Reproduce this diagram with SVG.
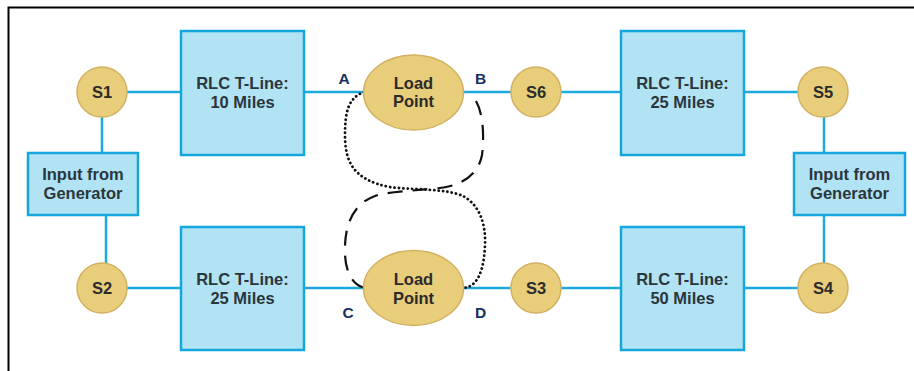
<svg xmlns="http://www.w3.org/2000/svg" width="914" height="371" viewBox="0 0 914 371">
  <style>
    .frame { fill: none; stroke: #000; stroke-width: 2; }
    .wire { fill: none; stroke: #1ca9de; stroke-width: 2.5; }
    .box { fill: #b1e3f4; stroke: #14a6dc; stroke-width: 2.5; }
    .bus { fill: #e8cd7b; stroke: #d2b161; stroke-width: 1.5; }
    .lbl { font-family: "Liberation Sans", Arial, sans-serif; font-weight: bold; font-size: 16.5px; fill: #2a363c; text-anchor: middle; }
    .bus-lbl { fill: #2b2b2b; }
    .pt { font-family: "Liberation Sans", Arial, sans-serif; font-weight: bold; font-size: 15.5px; fill: #15305f; text-anchor: middle; }
    .dotted { fill: none; stroke: #111; stroke-width: 2.8; stroke-linecap: round; stroke-dasharray: 0.1 4.3; }
    .dashed { fill: none; stroke: #111; stroke-width: 2.2; stroke-dasharray: 15 10; }
  </style>

  <rect class="frame" x="8.5" y="7.5" width="920" height="380"/>

  <g id="connectors">
    <!-- top row -->
    <line class="wire" x1="127" y1="92" x2="181" y2="92"/>
    <line class="wire" x1="304" y1="92" x2="364" y2="92"/>
    <line class="wire" x1="463" y1="92" x2="511" y2="92"/>
    <line class="wire" x1="561" y1="92" x2="621" y2="92"/>
    <line class="wire" x1="744" y1="92" x2="798" y2="92"/>
    <!-- bottom row -->
    <line class="wire" x1="127" y1="288" x2="181" y2="288"/>
    <line class="wire" x1="304" y1="288" x2="364" y2="288"/>
    <line class="wire" x1="463" y1="288" x2="511" y2="288"/>
    <line class="wire" x1="561" y1="288" x2="621" y2="288"/>
    <line class="wire" x1="744" y1="288" x2="798" y2="288"/>
    <!-- generator feeds -->
    <line class="wire" x1="102" y1="117" x2="102" y2="153"/>
    <line class="wire" x1="106" y1="215" x2="106" y2="264"/>
    <line class="wire" x1="824" y1="117" x2="824" y2="153"/>
    <line class="wire" x1="824" y1="215" x2="824" y2="263"/>
    <!-- load point crossings -->
    <path class="dotted" d="M364,92 C348,98 345,112 345,135 C345,160 352,180 390,187 C410,190 445,188 463,196 C480,205 486,225 485,245 C484,270 478,287 463,288"/>
    <path class="dashed" d="M476,101 C484,115 484,140 482,155 C479,172 465,185 440,188 C410,191 385,192 375,196 C350,205 344,230 345,255 C346,272 352,285 365,288"/>
  </g>

  <g id="gen-left">
    <rect class="box" x="28" y="153" width="110" height="62"/>
    <text class="lbl" x="83" y="180">Input from</text>
    <text class="lbl" x="83" y="198.5">Generator</text>
  </g>
  <g id="gen-right">
    <rect class="box" x="794" y="153" width="111" height="62"/>
    <text class="lbl" x="849.5" y="180">Input from</text>
    <text class="lbl" x="849.5" y="198.5">Generator</text>
  </g>

  <g id="line-10">
    <rect class="box" x="181" y="31" width="123" height="124"/>
    <text class="lbl" x="242.5" y="89">RLC T-Line:</text>
    <text class="lbl" x="242.5" y="107.5">10 Miles</text>
  </g>
  <g id="line-25a">
    <rect class="box" x="621" y="31" width="123" height="124"/>
    <text class="lbl" x="682.5" y="89">RLC T-Line:</text>
    <text class="lbl" x="682.5" y="107.5">25 Miles</text>
  </g>
  <g id="line-25b">
    <rect class="box" x="181" y="227" width="123" height="123"/>
    <text class="lbl" x="242.5" y="285">RLC T-Line:</text>
    <text class="lbl" x="242.5" y="303.5">25 Miles</text>
  </g>
  <g id="line-50">
    <rect class="box" x="621" y="227" width="123" height="123"/>
    <text class="lbl" x="682.5" y="285">RLC T-Line:</text>
    <text class="lbl" x="682.5" y="303.5">50 Miles</text>
  </g>

  <g id="load-top">
    <ellipse class="bus" cx="413.5" cy="92.5" rx="50" ry="37.5"/>
    <text class="lbl bus-lbl" x="413.5" y="88.5">Load</text>
    <text class="lbl bus-lbl" x="413.5" y="107">Point</text>
  </g>
  <g id="load-bottom">
    <ellipse class="bus" cx="413.5" cy="288" rx="50" ry="37.5"/>
    <text class="lbl bus-lbl" x="413.5" y="285">Load</text>
    <text class="lbl bus-lbl" x="413.5" y="303.5">Point</text>
  </g>

  <g id="s1"><circle class="bus" cx="102" cy="92" r="25"/><text class="lbl bus-lbl" x="102" y="98">S1</text></g>
  <g id="s2"><circle class="bus" cx="102" cy="288" r="25"/><text class="lbl bus-lbl" x="102" y="294">S2</text></g>
  <g id="s3"><circle class="bus" cx="536" cy="288" r="25"/><text class="lbl bus-lbl" x="536" y="294">S3</text></g>
  <g id="s4"><circle class="bus" cx="823" cy="288" r="25"/><text class="lbl bus-lbl" x="823" y="294">S4</text></g>
  <g id="s5"><circle class="bus" cx="823" cy="92" r="25"/><text class="lbl bus-lbl" x="823" y="98">S5</text></g>
  <g id="s6"><circle class="bus" cx="536" cy="92" r="25"/><text class="lbl bus-lbl" x="536" y="98">S6</text></g>

  <g id="points">
    <text class="pt" x="344" y="83.5">A</text>
    <text class="pt" x="480.5" y="83.5">B</text>
    <text class="pt" x="348" y="317.5">C</text>
    <text class="pt" x="480.5" y="317.5">D</text>
  </g>
</svg>
